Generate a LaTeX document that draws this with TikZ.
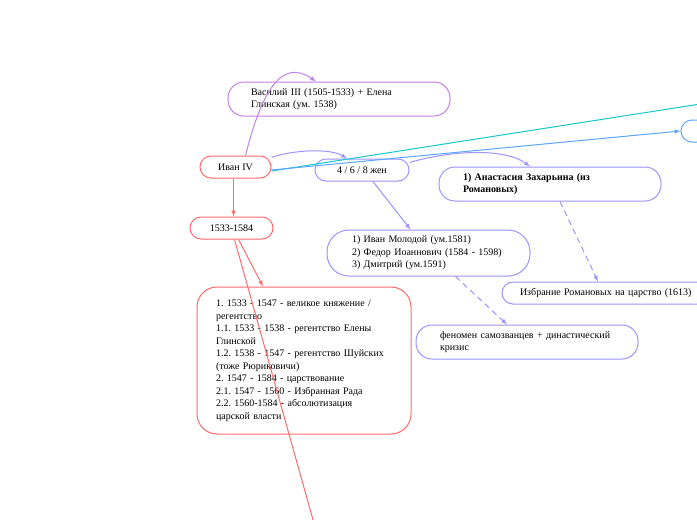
\documentclass[tikz,border=0pt]{standalone}
\usepackage{fontspec}
\setmainfont{Liberation Serif}
\usepackage{xcolor}
\usetikzlibrary{arrows,positioning}
\definecolor{mapred}{HTML}{FF6B6B}
\definecolor{parentpurple}{HTML}{C481E6}
\definecolor{wifeviolet}{HTML}{9C95FF}
\definecolor{linkteal}{HTML}{17C8CB}
\definecolor{linkblue}{HTML}{5CA6FF}
\frenchspacing

\begin{document}
\begin{tikzpicture}[x=1pt, y=-1pt,
    topic/.style={draw=mapred, rounded corners=11pt, line width=1pt, font=\fontsize{10}{12.5}\selectfont, align=center, minimum height=22pt, inner sep=2pt},
    note/.style={draw=wifeviolet, rounded corners=16pt, line width=1pt, font=\fontsize{10}{12.5}\selectfont, align=left, minimum height=34pt, inner ysep=3pt},
    link/.style={draw=wifeviolet, line width=1pt, -latex},
    dlink/.style={draw=wifeviolet, line width=1pt, dashed, dash pattern=on 6pt off 4pt, -latex},
    rlink/.style={draw=mapred, line width=1pt, -latex}
]
    % Canvas
    \useasboundingbox[fill=white] (0,0) rectangle (697,520);

    % Main topic and period
    \node[topic, minimum width=71pt] (ivan) at (235.5,167) {Иван IV};
    \node[topic, minimum width=83pt] (reign) at (231.5,228) {1533-1584};

    % Parents
    \node[note, draw=parentpurple, text width=176pt, inner xsep=23pt] (parents) at (339,99) {Василий III (1505-1533) + Елена\\Глинская (ум. 1538)};

    % Wives and children
    \node[topic, draw=wifeviolet, minimum width=94pt] (wives) at (362,170) {4 / 6 / 8 жен};
    \node[note, text width=174pt, inner xsep=24pt, font=\fontsize{10}{12.5}\selectfont\bfseries] (anastasia) at (550,184) {1) Анастасия Захарьина (из\\Романовых)};
    \node[note, text width=153pt, inner xsep=25pt, minimum height=46pt, rounded corners=22pt] (sons) at (428.5,253) {1) Иван Молодой (ум.1581)\\2) Федор Иоаннович (1584 - 1598)\\3) Дмитрий (ум.1591)};
    \node[note, text width=182pt, inner xsep=18pt, minimum height=22pt, rounded corners=11pt] (romanovs) at (611,293) {Избрание Романовых на царство (1613)};
    \node[note, text width=174pt, inner xsep=24pt] (impostors) at (527,342) {феномен самозванцев + династический\\кризис};

    % Periods of the reign
    \node[note, draw=mapred, text width=176pt, inner xsep=19pt, minimum height=147pt, rounded corners=20pt] (periods) at (304,360.5) {1. 1533 - 1547 - великое княжение /\\регентство\\1.1. 1533 - 1538 - регентство Елены\\Глинской\\1.2. 1538 - 1547 - регентство Шуйских\\(тоже Рюриковичи)\\2. 1547 - 1584 - царствование\\2.1. 1547 - 1560 - Избранная Рада\\2.2. 1560-1584 - абсолютизация\\царской власти\\[4pt]};

    % Topics beyond the right edge
    \node[topic, draw=linkblue, minimum width=90pt] (beyond) at (726,131) {};
    \coordinate (tealend) at (790,90);
    \coordinate (redend) at (322,552);

    % Links
    \draw[link, draw=parentpurple] ([xshift=10pt]ivan.north) .. controls (262,90) and (282,58) .. ([xshift=-23pt]parents.north);
    \draw[link] ([yshift=-2pt]ivan.north east) .. controls (292,150) and (330,148) .. ([xshift=-15pt]wives.north);
    \draw[link] ([yshift=-4pt]wives.north east) .. controls (452,150) and (505,148) .. ([xshift=-20pt]anastasia.north);
    \draw[link] ([xshift=11pt]wives.south) -- ([xshift=-18pt]sons.north);
    \draw[dlink] ([xshift=10pt]anastasia.south) -- ([xshift=-13pt]romanovs.north);
    \draw[dlink] ([xshift=27pt]sons.south) -- ([xshift=-20pt]impostors.north);
    \draw[draw=linkteal, line width=1pt] ([yshift=-4pt]ivan.east) -- (tealend);
    \draw[link, draw=linkblue] ([yshift=-3pt]ivan.east) -- (beyond.west);
    \draw[rlink] ([xshift=-2pt]ivan.south) -- ([xshift=2pt]reign.north);
    \draw[rlink] ([xshift=7pt]reign.south) -- ([xshift=-41pt]periods.north);
    \draw[draw=mapred, line width=1pt] ([xshift=3pt]reign.south) -- (redend);
\end{tikzpicture}
\end{document}
